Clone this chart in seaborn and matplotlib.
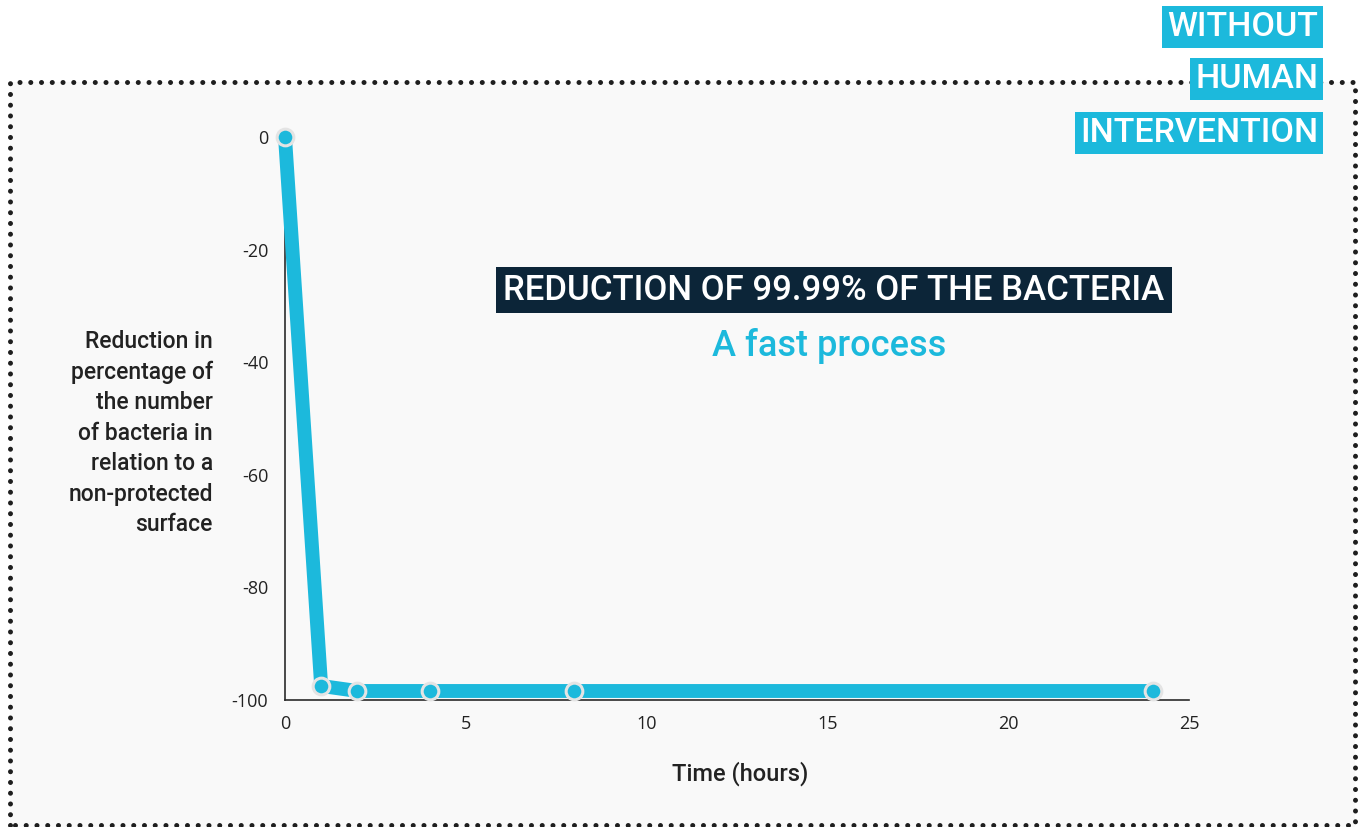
import matplotlib
matplotlib.use("Agg")
import matplotlib.pyplot as plt
from matplotlib.lines import Line2D
from matplotlib.patches import Rectangle
import seaborn as sns
import pandas as pd

# ---- data ----
hours = [0, 1, 2, 4, 8, 24]
reduction = [0, -97.5, -98.4, -98.4, -98.4, -98.4]
x_ticks = [0, 5, 10, 15, 20, 25]
y_ticks = [0, -20, -40, -60, -80, -100]
y_label = "Reduction in\npercentage of\nthe number\nof bacteria in\nrelation to a\nnon-protected\nsurface"
x_label = "Time (hours)"
title = "REDUCTION OF 99.99% OF THE BACTERIA"
subtitle = "A fast process"
corner_lines = ["WITHOUT", "HUMAN", "INTERVENTION"]

CYAN = "#1cb9dc"
NAVY = "#0c2538"
DARK = "#2b2b2b"

sns.set_style("white")
plt.rcParams["font.family"] = ["Roboto", "DejaVu Sans"]

W, H = 1365, 827
fig = plt.figure(figsize=(W / 100, H / 100), dpi=100, facecolor="white")

def fx(px):
    return px / W

def fy(py):
    return 1 - py / H

# inner background panel
fig.patches.append(Rectangle((fx(10), 0), fx(1355) - fx(10), fy(82), transform=fig.transFigure,
                             facecolor="#f9f9f9", edgecolor="none", zorder=-2))

# dotted border
bx0, bx1, by0, by1 = fx(10), fx(1355), fy(825), fy(82)
border = Line2D([bx0, bx0, bx1, bx1, bx0], [by0, by1, by1, by0, by0], transform=fig.transFigure,
                color="#1e1e1e", linewidth=3.6, linestyle=(0, (0.01, 2.14)),
                dash_capstyle="round", zorder=-1)
fig.lines.append(border)

ax = fig.add_axes([fx(285), fy(700), fx(1189) - fx(285), fy(137) - fy(700)])
ax.set_facecolor("none")
ax.set_zorder(2)

df = pd.DataFrame({"hours": hours, "reduction": reduction})
sns.lineplot(data=df, x="hours", y="reduction", ax=ax, color=CYAN, linewidth=10,
             marker="o", markersize=12, markerfacecolor=CYAN, markeredgecolor="#e4e4e4",
             markeredgewidth=2.2, clip_on=False, zorder=5, solid_joinstyle="miter")

ax.set_xlim(0, 25)
ax.set_ylim(-100, 0)
ax.set_xticks(x_ticks)
ax.set_yticks(y_ticks)
ax.set_xticklabels([str(t) for t in x_ticks], family=["Open Sans", "DejaVu Sans"])
ax.set_yticklabels([str(t) for t in y_ticks], family=["Open Sans", "DejaVu Sans"])
for s in ["top", "right"]:
    ax.spines[s].set_visible(False)
for s in ["left", "bottom"]:
    ax.spines[s].set_color(DARK)
    ax.spines[s].set_linewidth(1.2)
ax.tick_params(axis="both", colors=DARK, labelsize=13, length=6, width=1.1,
               direction="out", labelcolor="#222222")
ax.tick_params(axis="y", pad=6)
ax.tick_params(axis="x", pad=5)

ax.set_ylabel(y_label, rotation=0, fontsize=16.5, fontweight="medium", color="#222222",
              ha="right", va="center", multialignment="right", linespacing=1.42)
ax.yaxis.set_label_coords((213 - 285) / 904, (700 - 433) / 563)
ax.set_xlabel(x_label, fontsize=17, fontweight="medium", color="#222222")
ax.xaxis.set_label_coords(0.503, (700 - 761) / 563)

# title boxes
fig.text(fx(834), fy(290), title, ha="center", va="center", color="white", fontsize=25,
         fontweight="medium", zorder=5,
         bbox=dict(boxstyle="square,pad=0.2", facecolor=NAVY, edgecolor="none"))
fig.text(fx(829), fy(346), subtitle, ha="center", va="center", color=CYAN, fontsize=26,
         fontweight="medium", zorder=5)

# corner labels
for txt, ycen in zip(corner_lines, [27, 79, 133]):
    fig.text(fx(1318), fy(ycen), txt, ha="right", va="center", color="white", fontsize=24.5,
             fontweight="medium", zorder=10,
             bbox=dict(boxstyle="square,pad=0.15", facecolor=CYAN, edgecolor="none"))

fig.savefig("out.png", dpi=100, facecolor="white")
